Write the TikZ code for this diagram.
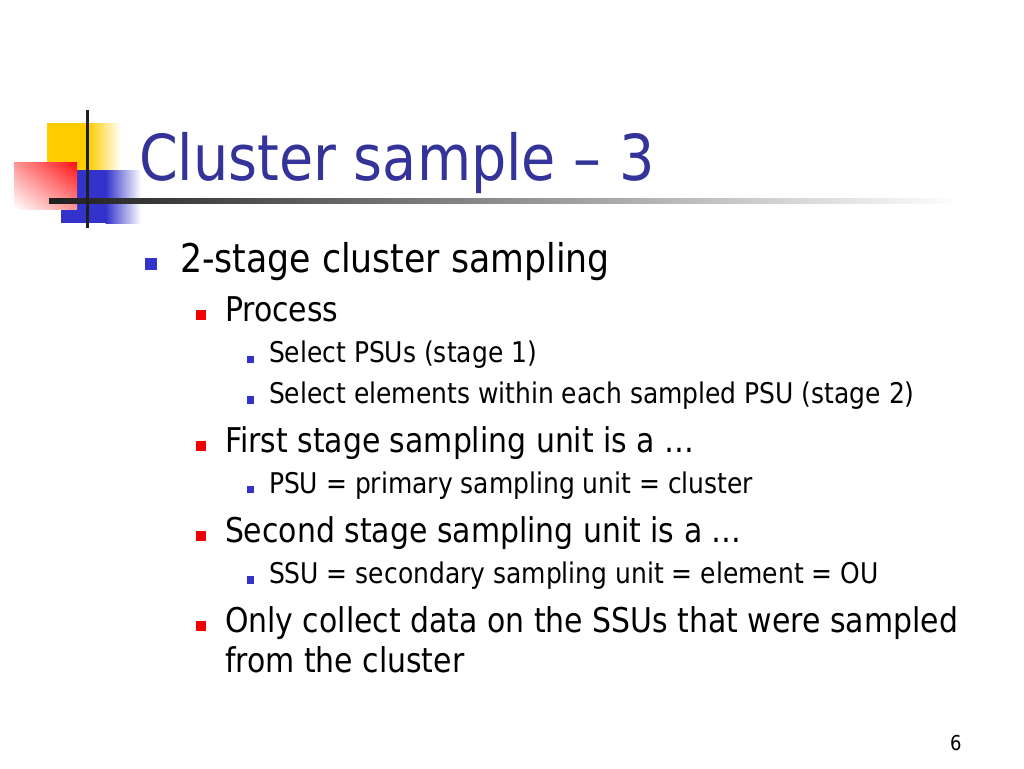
\documentclass[tikz,border=0pt]{standalone}
\usepackage{fontspec}
\usetikzlibrary{shadings}
\setmainfont{DejaVu Sans}[FakeStretch=0.877]
\definecolor{ttlblue}{HTML}{333399}
\definecolor{bulblue}{HTML}{3333CC}
\definecolor{bulred}{HTML}{F00000}
\definecolor{logoyel}{HTML}{FFCC00}
\definecolor{logored}{HTML}{FF1010}
\definecolor{logoblue}{HTML}{3333CC}
\begin{document}
\begin{tikzpicture}[x=1pt,y=-1pt,
  txt/.style={anchor=base west,inner sep=0pt,outer sep=0pt},
  ttl/.style={txt,text=ttlblue,font=\fontsize{63.4}{70}\selectfont},
  lone/.style={txt,font=\fontsize{39.6}{46}\selectfont},
  ltwo/.style={txt,font=\fontsize{34.1}{40}\selectfont},
  lthree/.style={txt,font=\fontsize{28.5}{34}\selectfont},
  ftr/.style={txt,font=\fontsize{20.5}{24}\selectfont}]
\useasboundingbox (0,0) rectangle (1024,768);
\fill[white] (0,0) rectangle (1024,768);
% logo
\fill[logoyel] (47,123) rectangle (89,170);
\shade[left color=logoyel,right color=white] (88.5,123) rectangle (121,170);
\fill[logoblue] (61,170) rectangle (106,223);
\shade[left color=logoblue,right color=white] (105.5,170) rectangle (141,223);
\shade[upper right=logored,lower left=white,upper left=logored!45!white,lower right=logored!45!white] (14,162) rectangle (77,209);
\shade[left color=black!88,right color=white] (49,198.8) rectangle (960,203.2);
\fill[black!88] (85.5,110) rectangle (89.2,228);
% title
\node[ttl] (title) at (139,180.5) {Cluster sample – 3};
% bullets
\fill[bulblue] (145,258) rectangle (157,269.5);
\node[lone] (l1) at (180,272) {2-stage cluster sampling};
\fill[bulred] (196,310) rectangle (206,320);
\node[ltwo] (p) at (225,321) {Process};
\fill[bulblue] (246.5,355.5) rectangle (254,363);
\node[lthree] (s1) at (269,362.5) {Select PSUs (stage 1)};
\fill[bulblue] (246.5,396) rectangle (254,403.5);
\node[lthree] (s2) at (269,403) {Select elements within each sampled PSU (stage 2)};
\fill[bulred] (196,441) rectangle (206,451);
\node[ltwo] (f) at (225,452) {First stage sampling unit is a …};
\fill[bulblue] (246.5,485.5) rectangle (254,493);
\node[lthree] (psu) at (269,493) {PSU = primary sampling unit = cluster};
\fill[bulred] (196,531) rectangle (206,541);
\node[ltwo] (sec) at (225,542) {Second stage sampling unit is a …};
\fill[bulblue] (246.5,576) rectangle (254,583.5);
\node[lthree] (ssu) at (269,583.5) {SSU = secondary sampling unit = element = OU};
\fill[bulred] (196,621) rectangle (206,631);
\node[ltwo] (o1) at (225,632) {Only collect data on the SSUs that were sampled};
\node[ltwo] (o2) at (225,672) {from the cluster};
\node[ftr] (pg) at (950,750) {6};
\end{tikzpicture}
\end{document}
